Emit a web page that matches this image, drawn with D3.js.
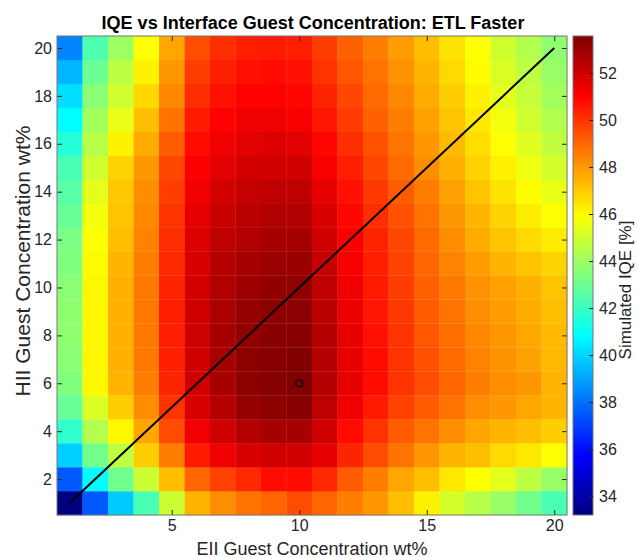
<!DOCTYPE html>
<html lang="en">
<head>
<meta charset="UTF-8">
<title>IQE vs Interface Guest Concentration</title>
<script src="https://d3js.org/d3.v7.min.js"></script>
<style>
    body { margin: 0px; background: #fff; }
    svg text { font-family: "Liberation Sans", Arial, Helvetica, sans-serif; }
</style>
</head>
<body>
<svg id="chart" width="637" height="558"></svg>
<script>
// EII guest concentration (x) and HII guest concentration (y), wt%
const eii = d3.range(1, 21);
const hii = d3.range(1, 21);
// simulated IQE [%], one row per HII value (row 0 = HII 1), one column per EII value
const iqe = [
    [33.2, 37.5, 39.8, 42.3, 44.9, 47.4, 48.2, 48.7, 49.0, 49.5, 49.0, 48.5, 48.0, 47.2, 46.2, 45.1, 44.5, 43.9, 43.1, 42.3],
    [37.5, 40.8, 43.1, 44.9, 47.2, 49.0, 49.7, 50.2, 50.8, 50.8, 50.2, 49.2, 48.5, 47.7, 47.2, 46.4, 45.9, 45.4, 44.6, 43.9],
    [39.9, 43.1, 44.6, 46.9, 48.5, 50.5, 51.3, 51.8, 52.0, 52.0, 51.5, 50.3, 49.5, 48.7, 48.0, 47.4, 47.2, 46.7, 46.4, 45.9],
    [41.8, 44.4, 46.1, 47.7, 49.5, 51.3, 52.0, 52.5, 52.8, 52.8, 52.0, 50.8, 50.0, 49.2, 48.7, 48.2, 47.7, 47.4, 47.2, 46.9],
    [42.9, 45.2, 46.9, 48.2, 50.0, 51.8, 52.5, 53.1, 53.3, 53.45, 52.3, 51.3, 50.5, 49.7, 49.2, 48.7, 48.2, 48.0, 47.7, 47.4],
    [43.4, 46.1, 47.4, 48.5, 50.3, 52.0, 52.8, 53.3, 53.45, 53.57, 52.5, 51.5, 50.8, 50.0, 49.5, 49.0, 48.5, 48.2, 48.0, 47.4],
    [43.6, 46.1, 47.5, 48.6, 50.4, 52.0, 52.8, 53.3, 53.45, 53.5, 52.5, 51.5, 50.8, 50.0, 49.4, 48.9, 48.4, 48.1, 47.8, 47.3],
    [43.7, 46.1, 47.5, 48.6, 50.4, 52.0, 52.8, 53.2, 53.4, 53.45, 52.5, 51.5, 50.7, 50.0, 49.3, 48.8, 48.3, 48.0, 47.7, 47.3],
    [43.7, 46.1, 47.5, 48.6, 50.4, 52.0, 52.7, 53.1, 53.3, 53.35, 52.4, 51.4, 50.6, 49.9, 49.2, 48.7, 48.2, 47.9, 47.6, 47.2],
    [43.6, 46.1, 47.5, 48.6, 50.3, 51.9, 52.6, 53.0, 53.2, 53.25, 52.3, 51.3, 50.5, 49.8, 49.1, 48.6, 48.1, 47.8, 47.5, 47.1],
    [43.4, 46.0, 47.4, 48.5, 50.2, 51.8, 52.5, 52.8, 53.0, 53.05, 52.2, 51.2, 50.4, 49.7, 49.0, 48.4, 47.9, 47.4, 47.1, 46.8],
    [43.3, 45.9, 47.2, 48.4, 50.1, 51.7, 52.3, 52.6, 52.8, 52.85, 52.0, 51.1, 50.3, 49.6, 48.9, 48.2, 47.6, 47.1, 46.7, 46.3],
    [42.9, 45.7, 47.1, 48.3, 50.0, 51.5, 52.1, 52.4, 52.6, 52.6, 51.8, 50.9, 50.1, 49.4, 48.7, 48.0, 47.4, 46.8, 46.3, 45.9],
    [42.6, 45.4, 47.0, 48.2, 49.8, 51.3, 51.9, 52.2, 52.3, 52.3, 51.5, 50.7, 49.9, 49.2, 48.5, 47.8, 47.1, 46.5, 46.0, 45.5],
    [42.3, 45.0, 46.8, 48.0, 49.6, 51.1, 51.6, 51.9, 52.0, 52.0, 51.2, 50.4, 49.6, 48.9, 48.2, 47.5, 46.8, 46.2, 45.6, 45.1],
    [41.6, 44.5, 46.2, 47.6, 49.2, 50.8, 51.3, 51.6, 51.7, 51.6, 50.9, 50.1, 49.4, 48.7, 48.0, 47.3, 46.6, 45.9, 45.3, 44.7],
    [40.8, 44.1, 45.5, 47.2, 48.7, 50.5, 51.0, 51.3, 51.3, 51.2, 50.6, 49.8, 49.1, 48.5, 47.8, 47.1, 46.4, 45.7, 45.0, 44.4],
    [40.2, 43.6, 45.0, 46.7, 48.3, 50.1, 50.7, 51.0, 51.0, 50.9, 50.3, 49.6, 48.9, 48.3, 47.6, 46.9, 46.2, 45.4, 44.8, 44.1],
    [39.4, 43.0, 44.6, 46.2, 48.0, 49.8, 50.4, 50.7, 50.8, 50.7, 50.0, 49.3, 48.7, 48.1, 47.4, 46.7, 46.0, 45.2, 44.6, 43.9],
    [38.4, 42.4, 44.0, 45.9, 47.7, 49.5, 50.1, 50.4, 50.5, 50.4, 49.8, 49.1, 48.5, 47.9, 47.2, 46.5, 45.9, 45.0, 44.4, 43.7]
];
// reference line and optimum marker
const lineX = [1, 20];
const lineY = [1, 20];
const optimum = { eii: 10, hii: 6 };
const xTicks = [5, 10, 15, 20];
const yTicks = [2, 4, 6, 8, 10, 12, 14, 16, 18, 20];
const cbTicks = [34, 36, 38, 40, 42, 44, 46, 48, 50, 52];

const cells = [];
hii.forEach((h, j) => eii.forEach((e, i) => cells.push({ e: e, h: h, v: iqe[j][i] })));

const plot = { left: 57, right: 567, top: 36, bottom: 515 };
const cb = { left: 573, right: 593 };
const ink = '#262626';

// MATLAB jet
function jet(t) {
    const c = v => Math.max(0, Math.min(1, v));
    const r = c(Math.min(4 * t - 1.5, -4 * t + 4.5));
    const g = c(Math.min(4 * t - 0.5, -4 * t + 3.5));
    const b = c(Math.min(4 * t + 0.5, -4 * t + 2.5));
    return d3.rgb(r * 255, g * 255, b * 255).toString();
}

const vExtent = d3.extent(cells, d => d.v);
const tScale = d3.scaleLinear(vExtent, [0, 1]).clamp(true);
const color = v => jet(tScale(v));

const x = d3.scaleLinear([0.5, 20.5], [plot.left, plot.right]);
const y = d3.scaleLinear([0.5, 20.5], [plot.bottom, plot.top]);
const cbY = d3.scaleLinear(vExtent, [plot.bottom, plot.top]);

const svg = d3.select('#chart');

svg.append('g')
    .selectAll('rect')
    .data(cells)
    .enter()
    .append('rect')
    .attr('x', d => x(d.e - 0.5))
    .attr('y', d => y(d.h + 0.5))
    .attr('width', d => x(d.e + 0.5) - x(d.e - 0.5) + 0.3)
    .attr('height', d => y(d.h - 0.5) - y(d.h + 0.5) + 0.3)
    .attr('fill', d => color(d.v));

// diagonal line
svg.append('path')
    .attr('d', d3.line().x(d => x(d[0])).y(d => y(d[1]))(d3.zip(lineX, lineY)))
    .attr('stroke', '#000')
    .attr('stroke-width', 2)
    .attr('fill', 'none');

svg.append('circle')
    .attr('cx', x(optimum.eii))
    .attr('cy', y(optimum.hii))
    .attr('r', 3.4)
    .attr('fill', 'none')
    .attr('stroke', '#111')
    .attr('stroke-width', 1.6);

// axes with inward ticks
function styleAxis (g) {
    g.select('.domain').remove();
    g.selectAll('line').attr('stroke', ink);
    g.selectAll('text').attr('fill', ink).attr('font-size', 16);
}
svg.append('g')
    .attr('transform', `translate(0, ${plot.bottom})`)
    .call(d3.axisBottom(x).tickValues(xTicks).tickSizeInner(-5).tickSizeOuter(0).tickPadding(5))
    .call(styleAxis);
svg.append('g')
    .attr('transform', `translate(0, ${plot.top})`)
    .call(d3.axisTop(x).tickValues(xTicks).tickSizeInner(-5).tickSizeOuter(0).tickFormat(''))
    .call(styleAxis);
svg.append('g')
    .attr('transform', `translate(${plot.left}, 0)`)
    .call(d3.axisLeft(y).tickValues(yTicks).tickSizeInner(-5).tickSizeOuter(0).tickPadding(5))
    .call(styleAxis);
svg.append('g')
    .attr('transform', `translate(${plot.right}, 0)`)
    .call(d3.axisRight(y).tickValues(yTicks).tickSizeInner(-5).tickSizeOuter(0).tickFormat(''))
    .call(styleAxis);

svg.append('rect')
    .attr('x', plot.left).attr('y', plot.top)
    .attr('width', plot.right - plot.left).attr('height', plot.bottom - plot.top)
    .attr('fill', 'none').attr('stroke', '#777').attr('stroke-width', 1);

// colorbar
const grad = svg.append('defs').append('linearGradient')
    .attr('id', 'jetgrad').attr('x1', 0).attr('y1', 1).attr('x2', 0).attr('y2', 0);
grad.selectAll('stop')
    .data(d3.range(0, 1.0001, 0.0625))
    .enter()
    .append('stop')
    .attr('offset', d => d)
    .attr('stop-color', d => jet(d));
svg.append('rect')
    .attr('x', cb.left).attr('y', plot.top)
    .attr('width', cb.right - cb.left).attr('height', plot.bottom - plot.top)
    .attr('fill', 'url(#jetgrad)')
    .attr('stroke', '#777').attr('stroke-width', 1);
svg.append('g')
    .attr('transform', `translate(${cb.right}, 0)`)
    .call(d3.axisRight(cbY).tickValues(cbTicks).tickSizeInner(-4).tickSizeOuter(0).tickPadding(6))
    .call(styleAxis);

// labels
svg.append('text')
    .attr('x', 313).attr('y', 29)
    .attr('text-anchor', 'middle')
    .attr('font-size', 18).attr('font-weight', 'bold').attr('fill', '#000')
    .text('IQE vs Interface Guest Concentration: ETL Faster');
svg.append('text')
    .attr('x', (plot.left + plot.right) / 2).attr('y', 555)
    .attr('text-anchor', 'middle')
    .attr('font-size', 18).attr('fill', ink)
    .text('EII Guest Concentration wt%');
svg.append('text')
    .attr('transform', `translate(30, 261) rotate(-90)`)
    .attr('text-anchor', 'middle')
    .attr('font-size', 21).attr('fill', ink)
    .text('HII Guest Concentration wt%');
svg.append('text')
    .attr('transform', `translate(631, 290) rotate(-90)`)
    .attr('text-anchor', 'middle')
    .attr('font-size', 17).attr('fill', ink)
    .text('Simulated IQE [%]');
</script>
</body>
</html>
